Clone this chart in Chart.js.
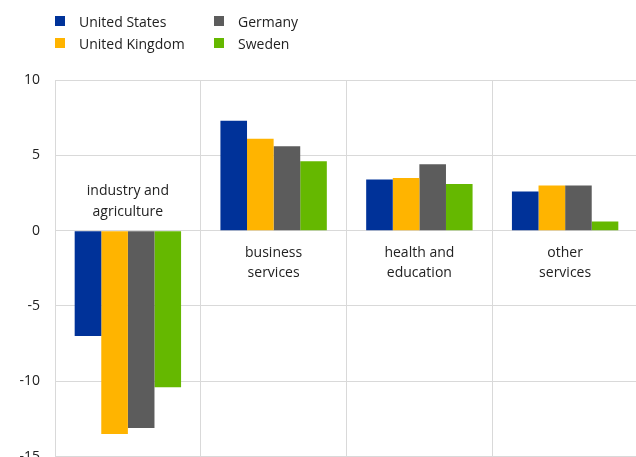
<!DOCTYPE html>
<html lang="en">
<head>
  <meta charset="UTF-8">
  <title>Employment change by sector</title>
  <script src="https://cdn.jsdelivr.net/npm/chart.js"></script>
  <style>
    body {
      margin: 0;
      background: #fff;
      overflow: hidden;
      font-family: 'Open Sans', sans-serif;
      color: #222;
    }
    .wrap {
      position: relative;
      width: 640px;
      height: 480px;
    }
    .legend {
      position: absolute;
      left: 55px;
      top: 10px;
      display: grid;
      grid-template-columns: 159px auto;
      grid-template-rows: 22px 22px;
      grid-auto-flow: column;
      font-size: 14px;
      z-index: 2;
    }
    .legend div {
      display: flex;
      align-items: center;
    }
    .legend span.box {
      width: 10px;
      height: 10px;
      margin-right: 14px;
    }
  </style>
</head>
<body>
  <div class="wrap">
    <div class="legend" id="legend"></div>
    <canvas id="chartCanvas" width="640" height="480"></canvas>
  </div>

  <script>
    const categories = [
      ['industry and', 'agriculture'],
      ['business', 'services'],
      ['health and', 'education'],
      ['other', 'services']
    ];
    const countries = ['United States', 'United Kingdom', 'Germany', 'Sweden'];
    const colors = ['#003299', '#ffb400', '#5c5c5c', '#65b800'];

    const unitedStates = [-7.0, 7.3, 3.4, 2.6];
    const unitedKingdom = [-13.5, 6.1, 3.5, 3.0];
    const germany = [-13.1, 5.6, 4.4, 3.0];
    const sweden = [-10.4, 4.6, 3.1, 0.6];
    const series = [unitedStates, unitedKingdom, germany, sweden];

    const yTicks = [-15, -10, -5, 0, 5, 10];

    // legend: two rows, filled column by column
    const legendEl = document.getElementById('legend');
    countries.forEach((name, i) => {
      const item = document.createElement('div');
      item.innerHTML = `<span class="box" style="background:${colors[i]}"></span>${name}`;
      legendEl.appendChild(item);
    });

    // sector names sit next to the zero line, on the side away from the bars
    const sectorLabels = {
      id: 'sectorLabels',
      afterDatasetsDraw(chart) {
        const { ctx, scales } = chart;
        const zero = scales.y.getPixelForValue(0);
        ctx.save();
        ctx.font = '14px "Open Sans", sans-serif';
        ctx.fillStyle = '#222';
        ctx.textAlign = 'center';
        ctx.textBaseline = 'middle';
        categories.forEach((lines, i) => {
          const x = scales.x.getPixelForValue(i);
          const negative = series.some(s => s[i] < 0);
          lines.forEach((line, j) => {
            const y = negative
              ? zero - 19 - (lines.length - 1 - j) * 21
              : zero + 22 + j * 20;
            ctx.fillText(line, x, y);
          });
        });
        ctx.restore();
      }
    };

    const ctx = document.getElementById('chartCanvas').getContext('2d');
    new Chart(ctx, {
      type: 'bar',
      data: {
        labels: categories.map(c => c.join(' ')),
        datasets: countries.map((name, i) => ({
          label: name,
          data: series[i],
          backgroundColor: colors[i],
          borderWidth: 0,
          categoryPercentage: 0.73,
          barPercentage: 1
        }))
      },
      options: {
        responsive: false,
        animation: false,
        layout: { padding: { top: 80, right: 2, bottom: 20, left: 0 } },
        plugins: {
          legend: { display: false },
          tooltip: { enabled: false }
        },
        scales: {
          x: {
            ticks: { display: false },
            grid: { color: '#d9d9d9', drawTicks: false, offset: true },
            border: { color: '#d9d9d9' }
          },
          y: {
            min: -15,
            max: 10,
            afterFit: s => { s.width = 55; },
            afterBuildTicks: s => { s.ticks = yTicks.map(v => ({ value: v })); },
            ticks: {
              padding: 15,
              color: '#222',
              font: { family: 'Open Sans', size: 14 }
            },
            grid: { color: '#d9d9d9', drawTicks: false },
            border: { color: '#d9d9d9' }
          }
        }
      },
      plugins: [sectorLabels]
    });
  </script>
</body>
</html>
